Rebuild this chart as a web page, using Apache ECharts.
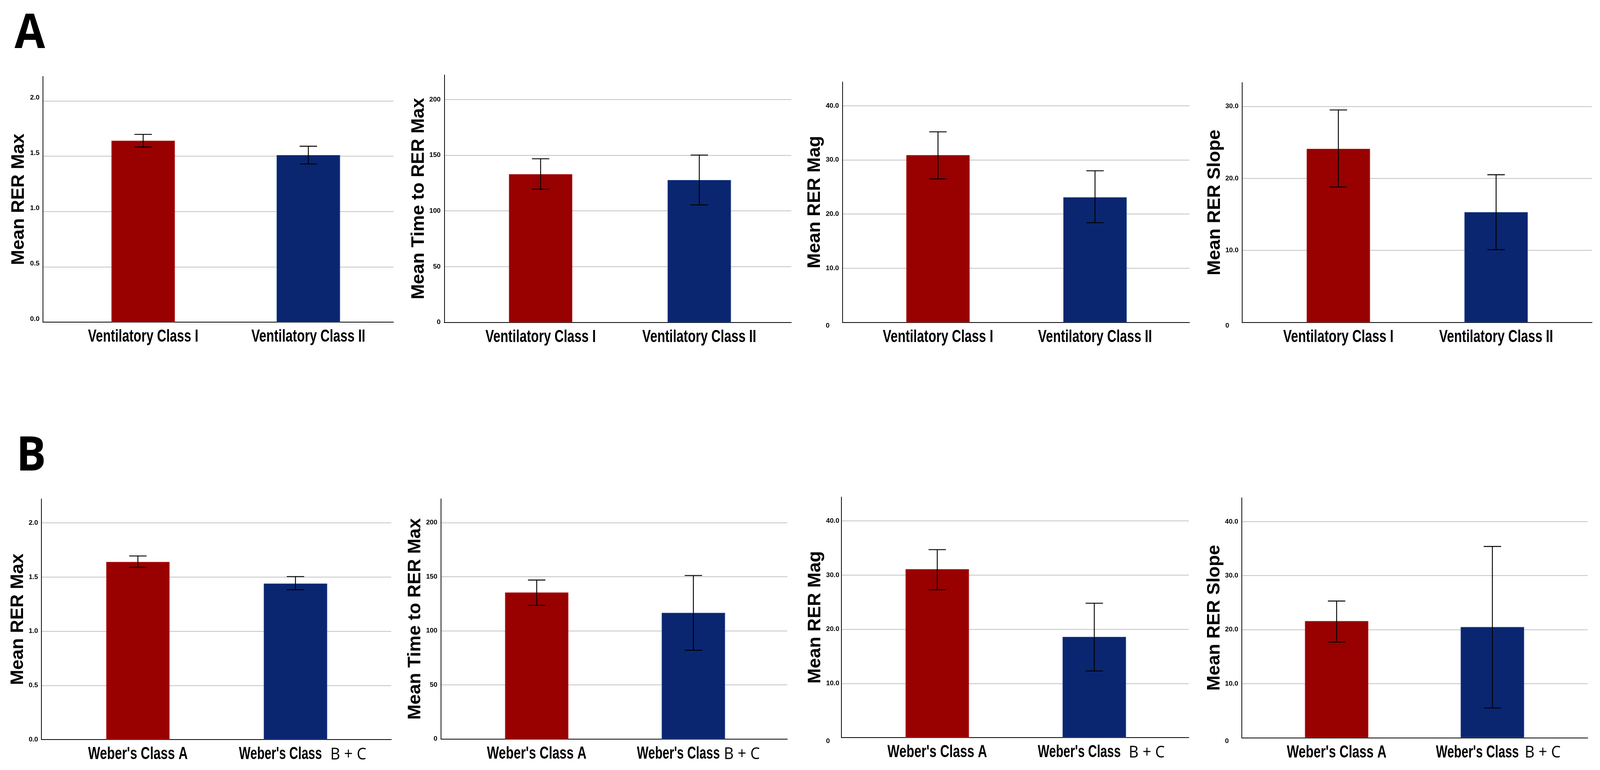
<!DOCTYPE html>
<html>
<head>
<meta charset="utf-8">
<script src="https://cdn.jsdelivr.net/npm/echarts@6/dist/echarts.min.js"></script>
<style>
html,body{margin:0;padding:0;background:#fff;overflow:hidden;}
#chart{width:100vw;height:100vh;}
</style>
</head>
<body>
<div id="chart"></div>
<script>
// ---------------- DATA ----------------
const panelLetters = ['A', 'B'];
const categoriesA = ['Ventilatory Class I', 'Ventilatory Class II'];
const categoriesB = ["Weber's Class A", "Weber's Class B + C"];
const yTitles = ['Mean RER Max', 'Mean Time to RER Max', 'Mean RER Mag', 'Mean RER Slope'];

// Row A (Ventilatory class)
const meanA = [[1.64, 1.51], [133.0, 127.7], [30.9, 23.1], [24.1, 15.3]];
const lowA  = [[1.583, 1.43], [119.5, 105.4], [26.5, 18.4], [18.8, 10.1]];
const highA = [[1.697, 1.59], [146.8, 150.1], [35.2, 28.0], [29.5, 20.5]];

// Row B (Weber's class)
const meanB = [[1.64, 1.44], [135.5, 116.7], [31.1, 18.6], [21.6, 20.5]];
const lowB  = [[1.59, 1.383], [123.6, 82.1], [27.3, 12.3], [17.7, 5.5]];
const highB = [[1.694, 1.504], [147.0, 151.2], [34.7, 24.8], [25.3, 35.4]];

// Axis ranges / tick steps
const yMaxA = [2.22, 222, 44.4, 33.3];
const yMaxB = [2.22, 222, 44.4, 44.4];
const yStep = [0.5, 50, 10, 10];

// ---------------- LAYOUT (reference px, 4412 x 1972) ----------------
const REF_W = 4412, REF_H = 1972;
const framePos = [ // [left, right, top, bottom]
  [118, 1085, 196, 825], [1225, 2182, 192, 825.5], [2323, 3280, 210, 825.5], [3425, 4390, 211.5, 825.5],
  [114, 1079, 1278, 1894], [1216, 2171, 1277.7, 1892.7], [2320, 3278, 1273, 1889], [3424, 4378, 1275, 1889.3]
];
const barPos = [ // [left, right] of category band area
  [167, 1078], [1272, 2147], [2370, 3236], [3473, 4343],
  [163, 1032], [1264, 2128], [2368, 3234], [3471, 4330]
];
const nameGaps = [41, 45, 44, 48, 39, 43, 42, 48];
const letterPos = [[40, 88], [45, 1170]];
const bcGap = [23, 11, 22, 16];

const RED = '#990000', BLUE = '#0a2670';
const SANS = "'Liberation Sans', Arial, sans-serif";

const el = document.getElementById('chart');
const W = el.clientWidth || window.innerWidth, H = el.clientHeight || window.innerHeight;
const S = W / REF_W, T = H / REF_H, F = Math.sqrt(S * T);

const grids = [], xAxes = [], yAxes = [], series = [];
const barAxisIdx = [];

for (let r = 0; r < 2; r++) {
  for (let c = 0; c < 4; c++) {
    const p = r * 4 + c;
    const f = framePos[p], b = barPos[p];
    const cats = r === 0 ? categoriesA : categoriesB;
    const means = r === 0 ? meanA[c] : meanB[c];
    const lows = r === 0 ? lowA[c] : lowB[c];
    const highs = r === 0 ? highA[c] : highB[c];
    const ymax = r === 0 ? yMaxA[c] : yMaxB[c];
    const step = yStep[c];
    const isTick = v => Math.abs(v / step - Math.round(v / step)) < 1e-6;

    const gF = grids.length;
    grids.push({left: f[0] * S, top: f[2] * T, width: (f[1] - f[0]) * S, height: (f[3] - f[2]) * T});
    const gB = grids.length;
    grids.push({left: b[0] * S, top: f[2] * T, width: (b[1] - b[0]) * S, height: (f[3] - f[2]) * T});

    let labelCfg;
    if (c === 0) {
      labelCfg = {align: 'right', margin: 9 * S, verticalAlign: r === 0 ? 'bottom' : 'middle', lineHeight: 16 * T,
        formatter: v => (isTick(v) ? v.toFixed(1) : '')};
    } else if (c === 1) {
      labelCfg = {align: 'right', margin: 10 * S,
        formatter: v => (isTick(v) ? String(Math.round(v)) : '')};
    } else {
      labelCfg = {align: 'left', margin: (p === 6 ? 42 : 46) * S,
        formatter: v => (!isTick(v) ? '' : (v === 0 ? '{z|0}' : v.toFixed(1))),
        rich: {z: {fontFamily: SANS, fontWeight: 'bold', fontSize: 18 * F, color: '#000', padding: [18 * T, 0, 0, 0]}}
      };
    }

    xAxes.push({
      type: 'category', gridIndex: gF, data: cats,
      axisLine: {show: true, lineStyle: {color: '#000', width: 2 * F}},
      axisTick: {show: false}, axisLabel: {show: false}, splitLine: {show: false}
    });
    yAxes.push({
      type: 'value', gridIndex: gF, min: 0, max: ymax, interval: step,
      name: yTitles[c], nameLocation: 'middle', nameGap: nameGaps[p] * S,
      nameTextStyle: {fontFamily: SANS, fontWeight: 'bold', fontSize: 47 * T, color: '#000'},
      axisLine: {show: true, lineStyle: {color: '#000', width: 2 * F}},
      axisTick: {show: false},
      splitLine: {show: true, showMinLine: false, showMaxLine: false, lineStyle: {color: '#c4c4c4', width: 2 * F}},
      axisLabel: Object.assign({
        show: true, showMaxLabel: false, color: '#000',
        fontFamily: SANS, fontWeight: 'bold', fontSize: 18 * F
      }, labelCfg)
    });

    const xB = xAxes.length;
    barAxisIdx.push(xB);
    xAxes.push({
      type: 'category', gridIndex: gB, data: cats,
      axisLine: {show: false}, axisTick: {show: false}, splitLine: {show: false}, axisLabel: {show: false}
    });
    const yB = yAxes.length;
    yAxes.push({type: 'value', gridIndex: gB, min: 0, max: ymax, show: false, splitLine: {show: false}});

    series.push({
      type: 'bar', xAxisIndex: xB, yAxisIndex: yB, barWidth: 175 * S,
      data: means.map((m, i) => ({
        value: m,
        itemStyle: {color: i === 0 ? RED : BLUE, borderColor: i === 0 ? '#c03a3a' : '#3a5aa0', borderWidth: 1 * F}
      })),
      z: 2, silent: true
    });
    series.push({
      type: 'custom', xAxisIndex: xB, yAxisIndex: yB, z: 5, silent: true,
      data: means.map((m, i) => [i, lows[i], highs[i]]),
      renderItem: (params, api) => {
        const lo = api.coord([api.value(0), api.value(1)]);
        const hi = api.coord([api.value(0), api.value(2)]);
        const hw = 24 * S;
        const st = {stroke: '#000', lineWidth: 2.4 * F};
        return {type: 'group', children: [
          {type: 'line', shape: {x1: lo[0], y1: lo[1], x2: hi[0], y2: hi[1]}, style: st},
          {type: 'line', shape: {x1: hi[0] - hw, y1: hi[1], x2: hi[0] + hw, y2: hi[1]}, style: st},
          {type: 'line', shape: {x1: lo[0] - hw, y1: lo[1], x2: lo[0] + hw, y2: lo[1]}, style: st}
        ]};
      }
    });
  }
}

const chart = echarts.init(el, null, {renderer: 'canvas'});
chart.setOption({
  animation: false,
  backgroundColor: '#fff',
  grid: grids, xAxis: xAxes, yAxis: yAxes, series: series
});

// ---- panel letters + category labels (condensed bold, placed from the category axis scale) ----
const graphics = panelLetters.map((t, i) => ({
  type: 'text', x: letterPos[i][0] * S, y: letterPos[i][1] * T, scaleX: S, scaleY: T,
  style: {text: t, font: "bold 122px 'Open Sans', 'Noto Sans', sans-serif", fill: '#000',
    textAlign: 'left', textVerticalAlign: 'middle'}
}));
const NARROW_FONT = "bold 45px " + SANS;
const NARROW_SCALE = 0.785;
for (let p = 0; p < 8; p++) {
  const r = Math.floor(p / 4), c = p % 4;
  const cats = r === 0 ? categoriesA : categoriesB;
  const yMid = (framePos[p][3] + 38) * T;
  cats.forEach((cat) => {
    const x = chart.convertToPixel({xAxisIndex: barAxisIdx[p]}, cat);
    if (cat === "Weber's Class B + C") {
      const xr = x + 73 * S;
      graphics.push({type: 'text', x: xr, y: yMid, scaleX: 0.75 * S, scaleY: T,
        style: {text: "Weber's Class", font: NARROW_FONT, fill: '#000', textAlign: 'right', textVerticalAlign: 'middle'}});
      graphics.push({type: 'text', x: xr + bcGap[c] * S, y: yMid + 1 * T, scaleX: S, scaleY: T,
        style: {text: 'B + C', font: "normal 42px 'Open Sans', 'Noto Sans', sans-serif", fill: '#000',
          textAlign: 'left', textVerticalAlign: 'middle'}});
    } else {
      graphics.push({type: 'text', x: x, y: yMid, scaleX: NARROW_SCALE * S, scaleY: T,
        style: {text: cat, font: NARROW_FONT, fill: '#000', textAlign: 'center', textVerticalAlign: 'middle'}});
    }
  });
}
chart.setOption({graphic: graphics});
</script>
</body>
</html>
